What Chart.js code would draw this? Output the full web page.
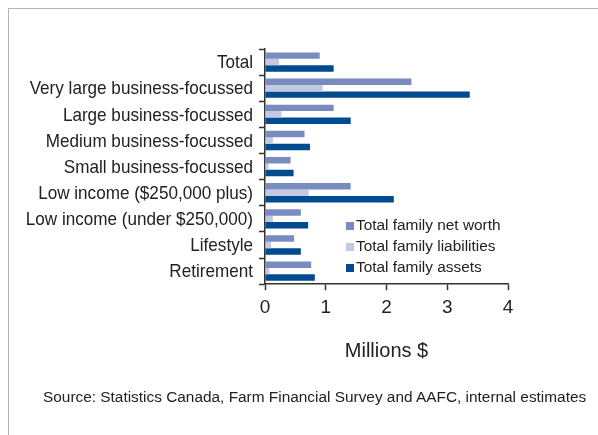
<!DOCTYPE html>
<html>
<head>
<meta charset="utf-8">
<script src="https://cdn.jsdelivr.net/npm/chart.js@4.4.0/dist/chart.umd.min.js"></script>
<style>
  html, body { margin: 0; padding: 0; background: #fff; }
  #wrap { position: relative; width: 598px; height: 435px; overflow: hidden; }
  #frame { position: absolute; left: 8px; top: 8px; width: 620px; height: 460px; border: 1px solid #b4b4b4; }
  #chart { position: absolute; left: 0; top: 0; }
  #source { position: absolute; left: 43px; top: 388px; font: 15.4px "Liberation Sans", Arial, sans-serif; color: #222; white-space: nowrap; }
</style>
</head>
<body>
<div id="wrap">
  <div id="frame"></div>
  <canvas id="chart" width="598" height="435"></canvas>
  <div id="source">Source: Statistics Canada, Farm Financial Survey and AAFC, internal estimates</div>
</div>
<script>
var categories = ["Total", "Very large business-focussed", "Large business-focussed", "Medium business-focussed",
  "Small business-focussed", "Low income ($250,000 plus)", "Low income (under $250,000)", "Lifestyle", "Retirement"];
var netWorth = [0.90, 2.41, 1.13, 0.65, 0.42, 1.41, 0.59, 0.48, 0.76];
var liabilities = [0.23, 0.95, 0.27, 0.13, 0.06, 0.72, 0.13, 0.10, 0.07];
var assets = [1.13, 3.37, 1.41, 0.74, 0.47, 2.12, 0.71, 0.59, 0.82];
var xTicks = [0, 1, 2, 3, 4];

var labelFont = { family: "'Liberation Sans', Arial, sans-serif", size: 19 };

// category names in a condensed face: normal text squeezed horizontally
var categoryLabels = {
  id: 'categoryLabels',
  afterDraw: function(chart) {
    var ctx = chart.ctx, yScale = chart.scales.y;
    ctx.save();
    ctx.font = "19px 'Liberation Sans', Arial, sans-serif";
    ctx.fillStyle = '#222';
    ctx.textAlign = 'right';
    ctx.textBaseline = 'middle';
    chart.data.labels.forEach(function(lbl, i) {
      var y = yScale.getPixelForValue(i);
      ctx.save();
      ctx.translate(yScale.right - 12, y + 1);
      ctx.scale(0.9, 1);
      ctx.fillText(lbl, 0, 0);
      ctx.restore();
    });
    ctx.restore();
  }
};

// legend drawn inside the plot area, bottom right
var insideLegend = {
  id: 'insideLegend',
  afterDraw: function(chart) {
    var ctx = chart.ctx;
    var x = 346, y = 226;
    ctx.save();
    ctx.font = "15.4px 'Liberation Sans', Arial, sans-serif";
    ctx.textBaseline = 'middle';
    chart.data.datasets.forEach(function(ds, i) {
      var yy = y + i * 21;
      ctx.fillStyle = ds.backgroundColor;
      ctx.fillRect(x, yy - 4, 8, 8);
      ctx.fillStyle = '#222';
      ctx.fillText(ds.label, x + 10, yy);
    });
    ctx.restore();
  }
};

new Chart(document.getElementById('chart'), {
  type: 'bar',
  data: {
    labels: categories,
    datasets: [
      { label: 'Total family net worth', data: netWorth, backgroundColor: '#7a8bbf' },
      { label: 'Total family liabilities', data: liabilities, backgroundColor: '#c2c9e2' },
      { label: 'Total family assets', data: assets, backgroundColor: '#004a8f' }
    ]
  },
  options: {
    indexAxis: 'y',
    responsive: false,
    animation: false,
    layout: { padding: { top: 49, right: 90, bottom: 72, left: 0 } },
    datasets: { bar: { categoryPercentage: 0.74, barPercentage: 1.0 } },
    plugins: { legend: { display: false }, tooltip: { enabled: false } },
    scales: {
      x: {
        min: 0, max: 4,
        afterBuildTicks: function(scale) { scale.ticks = xTicks.map(function(v) { return { value: v }; }); },
        grid: { drawOnChartArea: false, tickLength: 6, color: '#333', tickWidth: 1.5 },
        border: { color: '#333', width: 1.5 },
        ticks: { color: '#222', font: labelFont, padding: 6 },
        title: { display: true, text: 'Millions $', color: '#222', font: { family: labelFont.family, size: 20 }, padding: { top: 14, bottom: 0 } }
      },
      y: {
        afterFit: function(scale) { scale.width = 265; },
        grid: { offset: true, drawOnChartArea: false, tickLength: 6, color: '#333', tickWidth: 1.5 },
        border: { color: '#333', width: 1.5 },
        ticks: { display: false, autoSkip: false }
      }
    }
  },
  plugins: [insideLegend, categoryLabels]
});
</script>
</body>
</html>
